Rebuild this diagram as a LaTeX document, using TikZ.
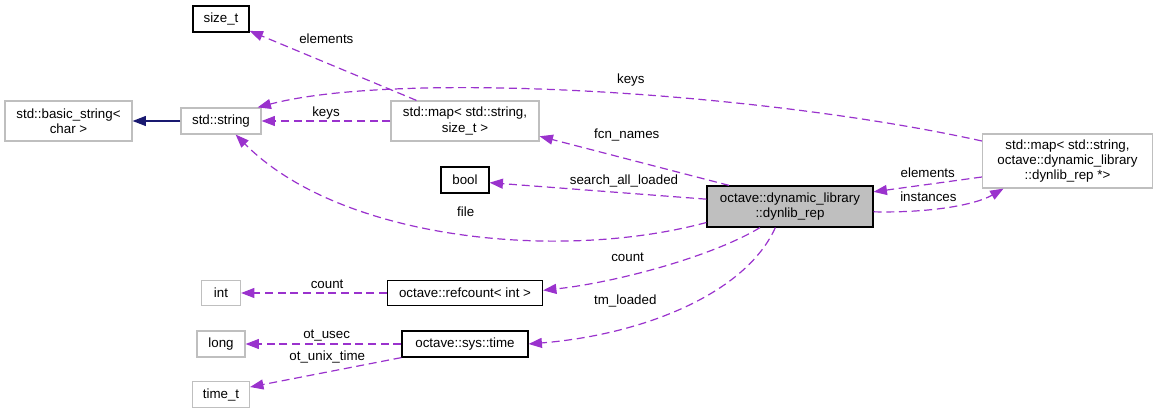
\documentclass[tikz,border=0pt]{standalone}
\usepackage{fontspec}
\setmainfont{Liberation Sans}
\usepackage{xcolor}
\usetikzlibrary{arrows.meta,positioning,calc}
\definecolor{edgepurple}{HTML}{9A32CD}
\definecolor{inhblue}{HTML}{191970}
\definecolor{boxgrey}{HTML}{BFBFBF}

\begin{document}
\begin{tikzpicture}[
  x=0.75pt, y=-0.75pt,
  font=\fontsize{10}{11.3}\selectfont,
  leaf/.style={draw=boxgrey, line width=0.9pt, fill=white, align=center,
               inner sep=1pt, minimum height=19.5pt},
  docbox/.style={leaf, draw=black},
  mainbox/.style={docbox, fill=boxgrey},
  mem/.style={->, draw=edgepurple, line width=0.9pt,
              dash pattern=on 6pt off 3.5pt},
  inh/.style={->, draw=inhblue, line width=0.9pt},
  lbl/.style={inner sep=0pt, text=black},
  >={Triangle[length=10pt,width=7.5pt]}]
  \useasboundingbox (0,0) rectangle (1157,413);
  \def\cA{221}\def\cB{465}\def\cC{790}\def\cD{1067.5}
  \node[docbox, minimum width=42pt] (sizet) at (\cA,19) {size\_t};
  \node[leaf, minimum width=95.25pt, minimum height=30pt] (basicstr) at (68.5,121)
        {std::basic\_string<\\char >};
  \node[leaf, minimum width=60pt] (str) at (\cA,121) {std::string};
  \node[leaf, minimum width=111pt, minimum height=30pt] (mapsz) at (\cB,121)
        {std::map< std::string,\\size\_t >};
  \node[docbox, minimum width=36pt] (bool) at (\cB,180) {bool};
  \node[mainbox, minimum width=124.5pt, minimum height=30.75pt] (rep) at (\cC,206.5)
        {octave::dynamic\_library\\::dynlib\_rep};
  \node[leaf, minimum width=127.5pt, minimum height=40.5pt] (mapinst) at (\cD,161)
        {std::map< std::string,\\octave::dynamic\_library\\::dynlib\_rep *>};
  \node[leaf, minimum width=29.25pt, minimum height=19pt] (int) at (\cA,293) {int};
  \node[docbox, minimum width=116.25pt, minimum height=19pt] (refcnt) at (\cB,293)
        {octave::refcount< int >};
  \node[leaf, minimum width=36pt] (long) at (\cA,344) {long};
  \node[docbox, minimum width=94.5pt] (systime) at (\cB,344) {octave::sys::time};
  \node[leaf, minimum width=42.75pt, minimum height=19pt] (timet) at (\cA,394.5) {time\_t};
  \draw[inh] (str) -- (basicstr);
  \draw[mem] (mapsz) -- node[lbl, yshift=6pt] {keys} (str);
  \draw[mem] (mapsz.157) -- node[lbl, pos=.54, yshift=18pt] {elements} (sizet);
  \draw[mem] ([yshift=15pt]mapinst.west) .. controls (760,92) and (400,70)
        .. ([xshift=-3pt]str.north east) node[lbl, pos=.45, yshift=10.5pt] {keys};
  \draw[mem] ([xshift=17pt]rep.north west)
        -- node[lbl, pos=.54, yshift=18pt] {fcn\_names} ([yshift=4pt]mapsz.south east);
  \draw[mem] ([yshift=5.5pt]rep.west)
        -- node[lbl, pos=.38, yshift=9pt] {search\_all\_loaded} ([yshift=-2pt]bool.east);
  \draw[mem] ([yshift=-12pt]rep.west) .. controls (560,262) and (340,240)
        .. ([xshift=11pt]str.south) node[lbl, pos=.48, yshift=17pt] {file};
  \draw[mem] ([xshift=-22.5pt]rep.south) .. controls (715,255) and (620,282)
        .. ([yshift=2pt]refcnt.east) node[lbl, pos=.65, yshift=13.5pt] {count};
  \draw[mem] ([xshift=-11pt]rep.south) .. controls (745,295) and (640,335)
        .. (systime.east) node[lbl, pos=.7, yshift=20pt] {tm\_loaded};
  \draw[mem] ([yshift=-12pt]mapinst.west)
        -- node[lbl, yshift=9pt] {elements} ([yshift=11pt]rep.east);
  \draw[mem] ([yshift=-4pt]rep.east) .. controls (930,213) and (975,205)
        .. ([xshift=-48pt]mapinst.south) node[lbl, pos=.35, yshift=9.6pt] {instances};
  \draw[mem] (refcnt) -- node[lbl, pos=.41, yshift=6.75pt] {count} (int);
  \draw[mem] (systime) -- node[lbl, pos=.48, yshift=6pt] {ot\_usec} (long);
  \draw[mem] (systime.south west)
        -- node[lbl, pos=.49, yshift=11pt] {ot\_unix\_time} ([yshift=5.6pt]timet.east);
\end{tikzpicture}
\end{document}
